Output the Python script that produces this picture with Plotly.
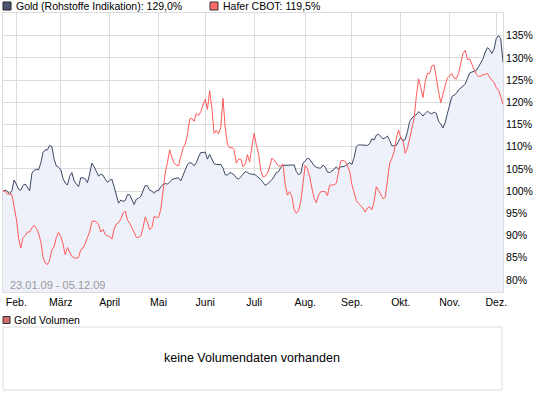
import pandas as pd
import plotly.graph_objects as go

# ---------------- data ----------------
start_date = "2009-01-23"
end_date = "2009-12-04"
dates = pd.bdate_range(start_date, end_date)

gold = [
    100.0, 100.2, 100.0, 99.3, 100.1, 102.5, 101.6, 100.4, 100.2, 101.3,
    101.6, 100.8, 100.1, 104.0, 104.7, 104.9, 104.8, 106.3, 108.7, 109.3,
    109.3, 110.3, 110.0, 107.2, 105.7, 105.4, 104.8, 102.9, 101.8, 101.4,
    103.3, 104.2, 102.3, 101.6, 101.0, 103.0, 103.0, 102.8, 101.9, 103.9,
    106.3, 105.5, 104.4, 103.4, 103.8, 103.6, 102.7, 102.0, 102.4, 102.7,
    101.0, 99.0, 97.3, 98.0, 97.7, 97.9, 99.2, 99.2, 97.9, 97.0,
    98.2, 98.4, 98.8, 100.1, 101.3, 101.2, 100.2, 100.0, 99.5, 100.1,
    100.1, 101.0, 101.5, 101.7, 101.6, 102.0, 102.6, 102.8, 102.9, 103.0,
    102.3, 103.4, 104.6, 106.0, 106.4, 106.3, 105.7, 106.4, 107.7, 108.7,
    108.7, 108.8, 107.2, 108.3, 107.2, 106.2, 106.0, 106.0, 106.0, 105.2,
    103.7, 103.6, 104.2, 104.0, 103.7, 103.0, 102.7, 103.2, 103.8, 104.4,
    104.2, 103.9, 103.8, 103.8, 103.5, 103.1, 102.6, 102.0, 101.3, 101.6,
    102.0, 102.6, 103.3, 104.2, 104.4, 105.3, 105.8, 105.8, 105.9, 105.8,
    105.8, 105.9, 104.4, 103.7, 104.0, 106.3, 106.8, 107.4, 107.2, 106.5,
    105.7, 105.4, 105.2, 105.2, 105.9, 105.4, 104.3, 104.2, 104.5, 104.9,
    105.5, 104.9, 105.5, 105.5, 105.7, 106.1, 106.4, 106.0, 107.6, 110.0,
    110.4, 110.4, 110.4, 110.3, 110.3, 110.7, 111.8, 111.5, 112.6, 112.8,
    112.3, 111.8, 112.0, 112.4, 111.4, 110.2, 110.2, 110.3, 111.2, 112.1,
    111.4, 111.6, 113.4, 115.7, 116.4, 117.0, 117.2, 117.9, 117.5, 116.9,
    117.5, 118.0, 117.6, 117.4, 117.8, 117.5, 115.7, 115.1, 114.2, 115.5,
    117.5, 119.4, 121.3, 121.6, 122.0, 122.8, 123.3, 123.8, 124.1, 125.4,
    126.6, 126.8, 127.0, 127.2, 128.0, 128.8, 129.8, 131.3, 132.3, 131.9,
    131.0, 132.0, 134.4, 135.0, 134.3, 129.0,
]

hafer = [
    100.0, 100.0, 99.3, 99.4, 99.2, 96.3, 93.8, 89.4, 87.2, 89.5,
    90.0, 90.8, 90.8, 91.7, 92.3, 91.6, 90.5, 88.7, 85.2, 83.8,
    83.5, 84.5, 86.8, 87.5, 89.6, 90.7, 89.8, 88.1, 85.7, 87.3,
    86.1, 85.3, 85.0, 84.9, 85.1, 86.8, 87.2, 88.2, 89.6, 90.8,
    93.2, 93.3, 93.1, 92.5, 90.8, 91.4, 90.3, 89.9, 89.8, 89.2,
    91.5, 92.6, 92.9, 93.7, 95.0, 95.5, 93.5, 92.8, 91.8, 90.8,
    89.6, 89.6, 89.9, 91.7, 94.2, 93.0, 91.3, 91.8, 94.3, 94.1,
    94.1, 95.9, 99.8, 104.1, 106.4, 109.3, 107.6, 106.3, 105.9, 105.7,
    107.8, 109.7, 110.6, 112.7, 116.2, 116.4, 115.7, 117.5, 117.0, 117.9,
    119.4, 120.7, 118.4, 122.6, 118.7, 113.0, 113.7, 112.9, 114.3, 120.9,
    114.2, 110.6, 109.7, 109.9, 109.3, 106.3, 107.2, 107.2, 105.5, 106.1,
    108.2, 106.6, 110.0, 113.0, 110.4, 108.4, 104.6, 103.2, 103.4, 104.0,
    105.5, 107.4, 107.0, 106.2, 105.6, 105.7, 106.1, 101.4, 99.1, 99.9,
    98.8, 95.9, 95.0, 95.6, 97.6, 101.8, 105.8, 105.0, 103.3, 100.7,
    98.4, 97.4, 99.1, 99.9, 99.9, 99.9, 99.0, 101.3, 101.4, 101.4,
    101.8, 104.6, 106.8, 106.9, 106.7, 105.7, 104.5, 101.5, 99.7, 97.9,
    97.2, 96.7, 96.2, 95.3, 96.2, 96.5, 95.8, 97.7, 101.0, 100.2,
    99.3, 98.3, 98.6, 102.2, 106.3, 107.4, 108.9, 111.9, 113.8, 111.9,
    111.3, 108.5, 109.7, 111.8, 114.5, 116.4, 121.3, 125.3, 123.3, 121.1,
    124.7, 126.5, 126.5, 128.2, 128.4, 125.2, 122.4, 119.9, 122.2, 123.8,
    125.5, 126.1, 126.5, 125.4, 125.3, 126.5, 128.6, 131.0, 131.7, 129.6,
    129.8, 128.3, 127.3, 126.3, 125.8, 125.9, 126.2, 126.3, 126.5, 125.6,
    125.0, 124.4, 123.3, 122.7, 121.3, 119.5,
]

month_ticks = ["2009-02-02", "2009-03-02", "2009-04-01", "2009-05-01", "2009-06-01",
               "2009-07-01", "2009-08-03", "2009-09-01", "2009-10-01", "2009-11-02",
               "2009-12-01"]
month_labels = ["Feb.", "März", "April", "Mai", "Juni", "Juli", "Aug.", "Sep.",
                "Okt.", "Nov.", "Dez."]

y_ticks = [80, 85, 90, 95, 100, 105, 110, 115, 120, 125, 130, 135]
y_labels = [f"{v}%" for v in y_ticks]

gold_name = "Gold (Rohstoffe Indikation): 129,0%"
hafer_name = "Hafer CBOT: 119,5%"
period_text = "23.01.09 - 05.12.09"
volume_title = "Gold Volumen"
volume_text = "keine Volumendaten vorhanden"

assert len(gold) == len(dates) == len(hafer)

# ---------------- layout helpers ----------------
W, H = 545, 395
L, R, T, B = 3, 42, 13, 103
PW, PH = W - L - R, H - T - B


def px(x):
    return (x - L) / PW


def py(y):
    return (T + PH - y) / PH


FONT = "Liberation Sans, Arial, sans-serif"
GRID = "#dcdcdc"

fig = go.Figure()
fig.add_trace(go.Scatter(
    x=dates, y=gold, mode="lines", name=gold_name,
    line=dict(color="#3a4764", width=1),
    fill="tozeroy", fillcolor="#eef1f9",
))
fig.add_trace(go.Scatter(
    x=dates, y=hafer, mode="lines", name=hafer_name,
    line=dict(color="#ff5a5a", width=1),
))

shapes = [
    # legend squares
    dict(type="rect", xref="paper", yref="paper", x0=px(3), x1=px(11), y0=py(10), y1=py(2),
         fillcolor="#4b5672", line=dict(color="#222222", width=1)),
    dict(type="rect", xref="paper", yref="paper", x0=px(210), x1=px(218), y0=py(10), y1=py(2),
         fillcolor="#ff6a6a", line=dict(color="#333333", width=1)),
    dict(type="rect", xref="paper", yref="paper", x0=px(3), x1=px(10), y0=py(323.5), y1=py(316.5),
         fillcolor="#d96b6b", line=dict(color="#333333", width=1)),
    # volume panel
    dict(type="rect", xref="paper", yref="paper", x0=px(3), x1=px(502), y0=py(390), y1=py(327),
         fillcolor="rgba(0,0,0,0)", line=dict(color=GRID, width=1)),
]

annotations = [
    dict(text=gold_name, xref="paper", yref="paper", x=px(14), y=py(6.5),
         xanchor="left", yanchor="middle", showarrow=False,
         font=dict(family=FONT, size=10.5, color="#000000")),
    dict(text=hafer_name, xref="paper", yref="paper", x=px(221), y=py(6.5),
         xanchor="left", yanchor="middle", showarrow=False,
         font=dict(family=FONT, size=10.5, color="#000000")),
    dict(text=period_text, xref="paper", yref="paper", x=px(8), y=py(285),
         xanchor="left", yanchor="middle", showarrow=False,
         font=dict(family=FONT, size=11, color="#999999")),
    dict(text=volume_title, xref="paper", yref="paper", x=px(12), y=py(320),
         xanchor="left", yanchor="middle", showarrow=False,
         font=dict(family=FONT, size=10.5, color="#000000")),
    dict(text=volume_text, xref="paper", yref="paper", x=px(252), y=py(357.5),
         xanchor="center", yanchor="middle", showarrow=False,
         font=dict(family=FONT, size=12.5, color="#000000")),
]

fig.update_layout(
    width=W, height=H,
    margin=dict(l=L, r=R, t=T, b=B, pad=0),
    paper_bgcolor="white", plot_bgcolor="white",
    showlegend=False,
    font=dict(family=FONT, size=10.5, color="#000000"),
    shapes=shapes, annotations=annotations,
    xaxis=dict(
        type="date", range=[dates[0], dates[-1]],
        rangebreaks=[dict(bounds=["sat", "mon"])],
        tickmode="array", tickvals=month_ticks, ticktext=month_labels,
        showgrid=True, gridcolor=GRID, gridwidth=1,
        showline=True, linecolor=GRID, linewidth=1, mirror=True,
        ticks="", zeroline=False,
        tickfont=dict(family=FONT, size=10.5, color="#000000"),
    ),
    yaxis=dict(
        side="right", range=[77.3, 140.1],
        tickmode="array", tickvals=y_ticks, ticktext=y_labels,
        showgrid=True, gridcolor=GRID, gridwidth=1,
        showline=True, linecolor=GRID, linewidth=1, mirror=True,
        ticks="", zeroline=False,
        tickfont=dict(family=FONT, size=10.5, color="#000000"),
    ),
)

fig.write_html(
    "out.html",
    config={"displayModeBar": False},
    post_script="document.body.style.margin='0';document.body.style.padding='0';",
)
